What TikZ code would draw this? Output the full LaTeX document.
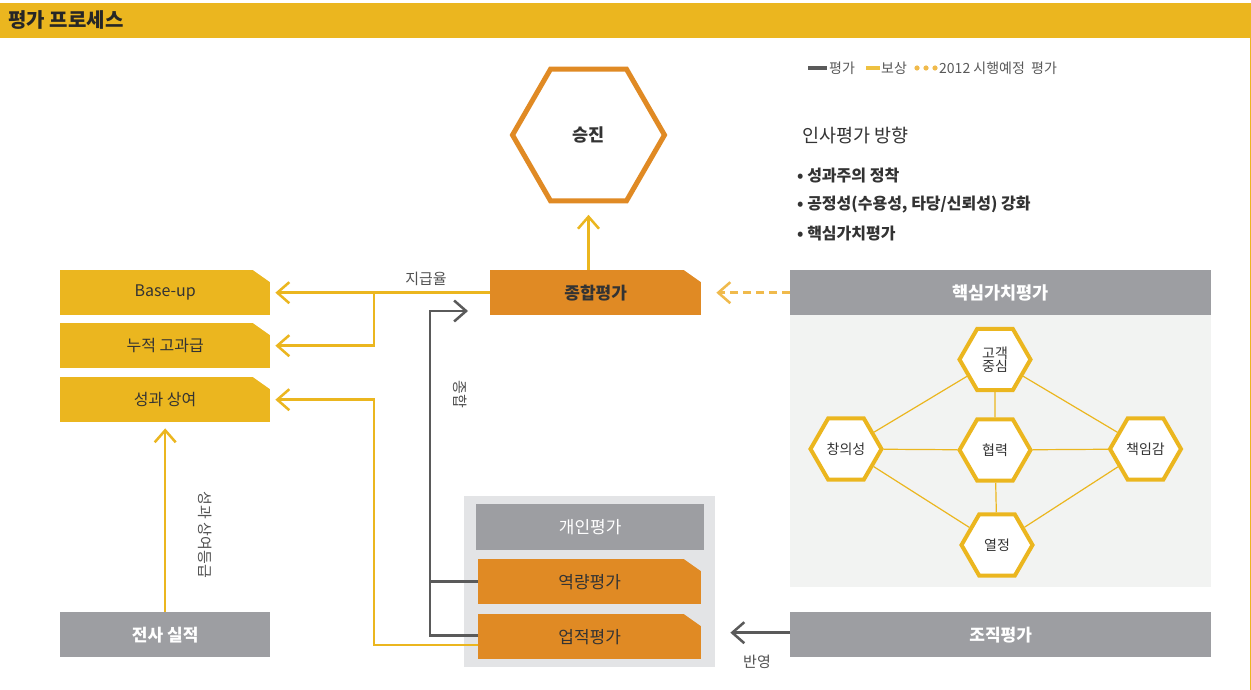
\documentclass[tikz,border=0pt]{standalone}
\usepackage{fontspec}
\setmainfont{Noto Sans CJK KR}
\usetikzlibrary{arrows.meta,shapes.geometric,calc}
\definecolor{ylw}{HTML}{EBB61F}
\definecolor{org}{HTML}{E08A24}
\definecolor{gry}{HTML}{9D9EA2}
\definecolor{dgry}{HTML}{5A5A5A}
\definecolor{cont}{HTML}{E3E4E6}
\definecolor{panel}{HTML}{F2F3F2}
\definecolor{txt}{HTML}{333333}
\definecolor{dotc}{HTML}{F0BA4C}
\tikzset{
  cutbox/.style={fill=#1,inner sep=0pt,anchor=north west,minimum height=45pt,text=txt,font=\fontsize{16}{19}\selectfont},
  corner/.style={path picture={\fill[#1] ($(path picture bounding box.north east)+(-17pt,0pt)$) -- (path picture bounding box.north east) -- ++(0pt,-12pt) -- cycle;}},
  greybox/.style={fill=gry,inner sep=0pt,anchor=north west,minimum height=45pt,text=white,font=\fontsize{17}{20}\selectfont\bfseries},
  yarrow/.style={draw=ylw,line width=2.5pt,-{Straight Barb[length=12pt,width=21pt,line width=2.5pt]}},
  garrow/.style={draw=dgry,line width=2.5pt,-{Straight Barb[length=12pt,width=21pt,line width=2.5pt]}},
  gline/.style={draw=dgry,line width=2.5pt},
  hexs/.style={regular polygon,regular polygon sides=6,minimum size=71pt,inner sep=0pt,draw=ylw,line width=4pt,fill=white,text=txt,font=\fontsize{14}{16}\selectfont,align=center},
  link/.style={draw=ylw,line width=1.2pt},
  lbl/.style={text=txt!85,font=\fontsize{15}{17}\selectfont},
  lgd/.style={anchor=west,inner sep=0pt,text=black!65,font=\fontsize{14}{16}\selectfont},
  bul/.style={anchor=west,inner sep=0pt,text=txt,font=\fontsize{16}{19}\selectfont\bfseries},
}
\begin{document}
\begin{tikzpicture}[x=1pt,y=-1pt]
\useasboundingbox (0,0) rectangle (1251,690);
\fill[white] (0,0) rectangle (1251,690);
% title bar
\fill[ylw] (0,3) rectangle (1251,38);
\node[anchor=west,text=black!85,font=\fontsize{20}{23}\selectfont\bfseries] (title) at (5,20.5) {평가 프로세스};
\draw[ylw,line width=1pt] (1250.5,38) -- (1250.5,690);

% legend
\draw[dgry,line width=4pt] (808,68) -- (827,68);
\node[lgd] (lg1) at (829,68) {평가};
\draw[ylw!85!white,line width=4pt] (866,68) -- (880,68);
\node[lgd] (lg2) at (881,68) {보상};
\foreach \xx in {917,926,935} \fill[dotc] (\xx,68) circle (2.6pt);
\node[lgd] (lg3) at (939,68) {2012 시행예정\ \ 평가};

% direction text
\node[anchor=west,inner sep=0pt,text=txt,font=\fontsize{18.5}{21}\selectfont] (dir) at (802,136) {인사평가 방향};
\node[bul] (b1) at (797,176) {•\ 성과주의 정착};
\node[bul] (b2) at (797,205) {•\ 공정성(수용성, 타당/신뢰성) 강화};
\node[bul] (b3) at (797,234) {•\ 핵심가치평가};

% promotion hexagon
\node[regular polygon,regular polygon sides=6,minimum size=152pt,inner sep=0pt,draw=org,line width=5pt,fill=white,text=txt,font=\fontsize{17.5}{20}\selectfont\bfseries] (sj) at (588.5,135) {승진};

% left boxes
\node[cutbox=ylw,corner=white,minimum width=210pt] (bu) at (60,270) {Base-up};
\node[cutbox=ylw,corner=white,minimum width=210pt] (nj) at (60,323) {누적 고과급};
\node[cutbox=ylw,corner=white,minimum width=210pt] (sy) at (60,377) {성과 상여};
\node[greybox,minimum width=210pt] (js) at (60,612) {전사 실적};

% overall evaluation
\node[cutbox=org,corner=white,minimum width=211pt,font=\fontsize{17}{20}\selectfont\bfseries] (jh) at (490,270) {종합평가};

% individual evaluation container
\fill[cont] (464,496) rectangle (715,667);
\node[greybox,minimum width=228pt,minimum height=46pt,font=\fontsize{17}{20}\selectfont] (gi) at (476,504) {개인평가};
\node[cutbox=org,corner=cont,minimum width=223pt,font=\fontsize{17}{20}\selectfont] (yr) at (478,559) {역량평가};
\node[cutbox=org,corner=cont,minimum width=223pt,font=\fontsize{17}{20}\selectfont] (ej) at (478,614) {업적평가};

% organisation evaluation
\node[greybox,minimum width=421pt] (jj) at (790,612) {조직평가};

% core value panel
\fill[panel] (790,315) rectangle (1211,587);
\node[greybox,minimum width=421pt,font=\fontsize{17.5}{20}\selectfont\bfseries] (hg) at (790,270) {핵심가치평가};

\node[hexs] (h1) at (995,359.5) {고객\\[-3pt]중심};
\node[hexs] (h2) at (846,449) {창의성};
\node[hexs] (h3) at (995,450) {협력};
\node[hexs] (h4) at (1145.5,449) {책임감};
\node[hexs] (h5) at (997,545) {열정};
\draw[link] (h1) -- (h2);
\draw[link] (h1) -- (h4);
\draw[link] (h1) -- (h3);
\draw[link] (h2) -- (h3);
\draw[link] (h3) -- (h4);
\draw[link] (h2) -- (h5);
\draw[link] (h4) -- (h5);
\draw[link] (h3) -- (h5);

% connectors
\coordinate (br1) at (374,292.5);
\coordinate (br2) at (374,500);
\coordinate (g1) at (430,450);
\coordinate (g2) at (468,311);

\draw[yarrow,shorten >=5pt] (jh.west) -- (bu.east);
\draw[yarrow,shorten >=5pt] (br1) |- (nj.east);
\node[lbl] (l1) at (426,279) {지급율};
\draw[yarrow,shorten >=11.5pt] (sj.south |- jh.north) -- (sj.south);

\draw[yarrow,shorten >=5pt] ([yshift=-8.5pt]ej.west) -| (br2) |- (sy.east);
\draw[yarrow,shorten >=6pt] (js.north) -- (sy.south);
\node[lbl,rotate=-90] (l2) at (205,535) {성과 상여등급};

\draw[gline] (yr.west) -- (yr.west -| g1);
\draw[garrow] ([yshift=1pt]ej.west) -| (g1) |- (g2);
\node[lbl,rotate=-90] (l3) at (460,394) {종합};

\draw[garrow,shorten >=29pt] ([yshift=2pt]jj.west) -- ([yshift=2pt]jj.west -| ej.east);
\node[lbl] (l4) at (757,662) {반영};

\draw[draw=dotc,line width=2.5pt,dash pattern=on 8pt off 5pt,-{Straight Barb[length=12pt,width=21pt,line width=2.5pt]},shorten >=15pt] (hg.west) -- (jh.east);
\end{tikzpicture}
\end{document}
